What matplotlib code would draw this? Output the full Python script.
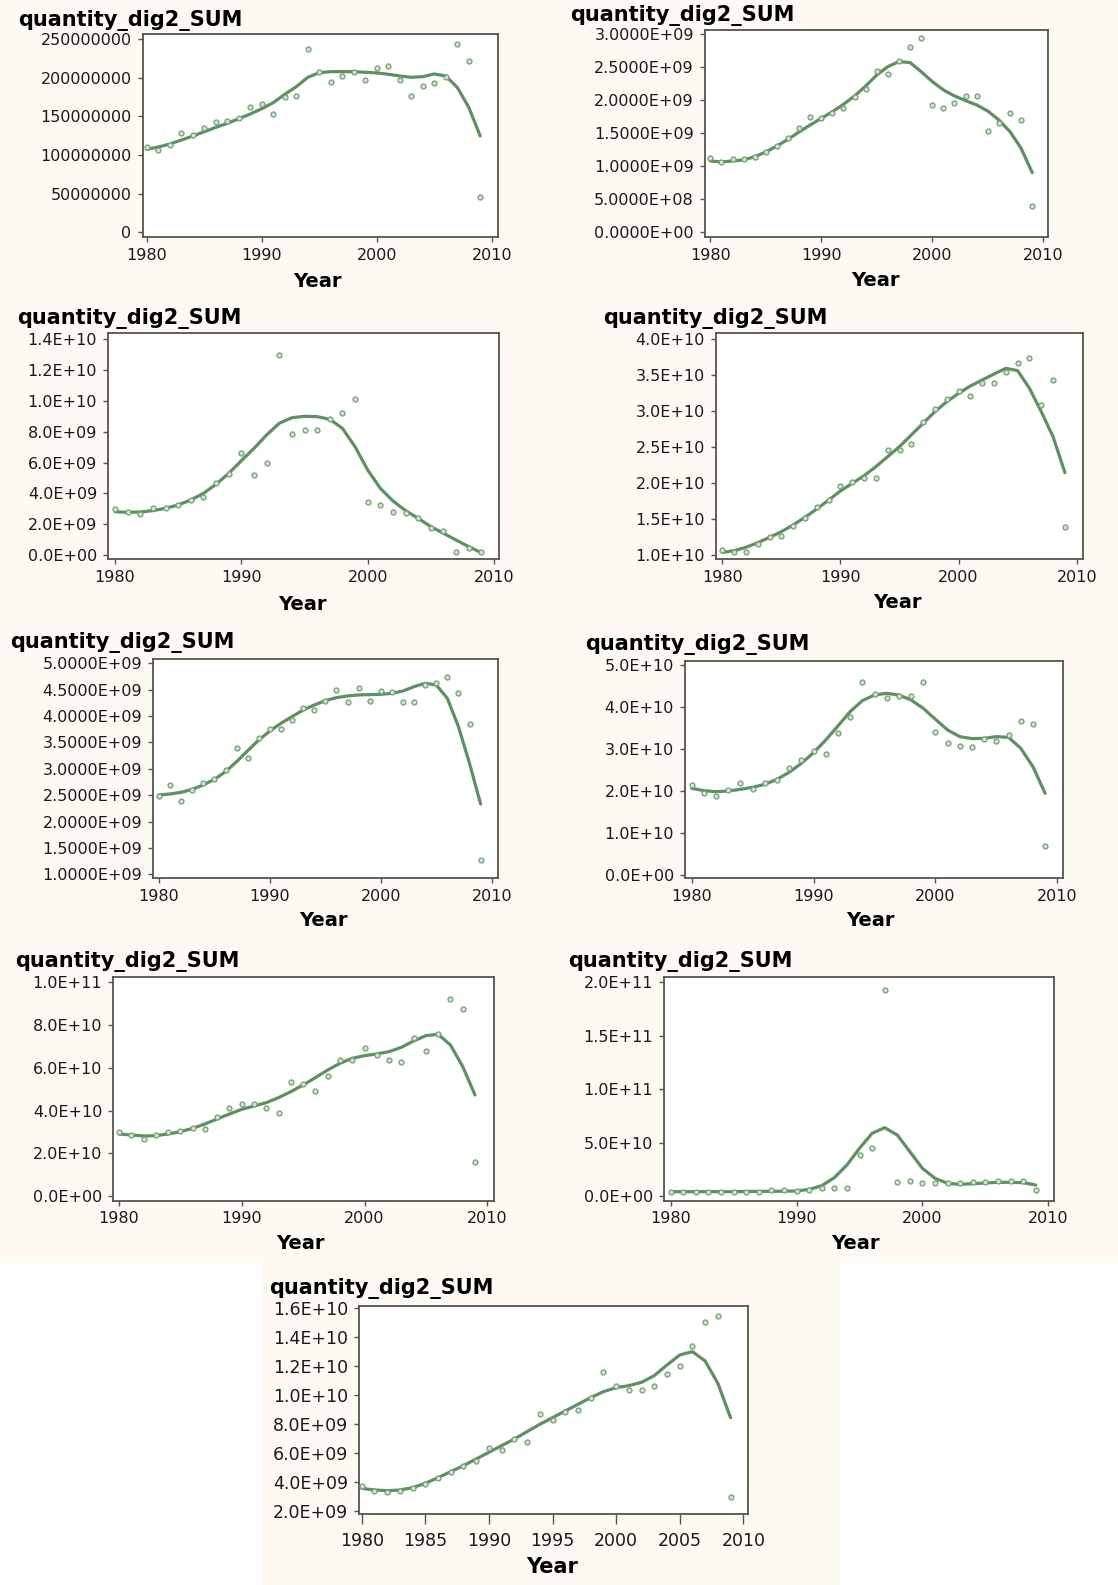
import matplotlib
matplotlib.use("Agg")
import matplotlib.pyplot as plt
from matplotlib.patches import Rectangle
from matplotlib.ticker import FuncFormatter, MultipleLocator

W, H = 1118, 1585

years = list(range(1980, 2010))

# values, one pair (points, fitted curve) per panel
# panel 1 (millions)
p1_pts = [110.5, 107, 113, 128.7, 126.5, 135.6, 142.5, 144.6, 147.7, 162.8,
          166.7, 152.9, 175.3, 177, 237.5, 207.7, 195.2, 203, 207.7, 197.3,
          213.3, 215.5, 197.3, 177, 189.6, 193.4, 201.6, 244, 221.5, 46.2]
p1_fit = [107.5, 110.5, 114.4, 119.6, 124.8, 130.4, 136, 141.2, 147.2, 153.3,
          160.2, 168, 178.8, 188.7, 200.8, 206.8, 208.1, 208.1, 208, 207.3,
          206.4, 204.7, 202.5, 200.8, 201.6, 205.1, 202.5, 187.8, 162, 124.8]
# panel 2 (1e9)
p2_pts = [1.131, 1.061, 1.106, 1.106, 1.136, 1.222, 1.308, 1.424, 1.586, 1.742,
          1.727, 1.803, 1.889, 2.056, 2.167, 2.449, 2.399, 2.596, 2.803, 2.949,
          1.929, 1.889, 1.955, 2.071, 2.071, 1.535, 1.652, 1.813, 1.697, 0.399]
p2_fit = [1.081, 1.066, 1.081, 1.096, 1.146, 1.217, 1.308, 1.409, 1.520, 1.626,
          1.727, 1.828, 1.939, 2.066, 2.217, 2.384, 2.510, 2.586, 2.571, 2.434,
          2.283, 2.157, 2.066, 1.995, 1.929, 1.838, 1.702, 1.525, 1.273, 0.904]
# panel 3 (1e9)
p3_pts = [2.96, 2.77, 2.66, 3.03, 3.03, 3.25, 3.57, 3.79, 4.70, 5.26,
          6.60, 5.19, 5.99, 12.98, 7.83, 8.11, 8.11, 8.83, 9.24, 10.15,
          3.46, 3.25, 2.77, 2.70, 2.42, 1.73, 1.56, 0.22, 0.43, 0.17]
p3_fit = [2.81, 2.77, 2.79, 2.88, 3.03, 3.25, 3.57, 4.00, 4.59, 5.30,
          6.12, 6.92, 7.79, 8.55, 8.91, 9.00, 8.98, 8.81, 8.22, 7.03,
          5.52, 4.33, 3.51, 2.88, 2.38, 1.84, 1.41, 0.97, 0.54, 0.15]
# panel 4 (1e10)
p4_pts = [1.069, 1.046, 1.046, 1.153, 1.245, 1.269, 1.403, 1.509, 1.662, 1.764,
          1.963, 2.019, 2.065, 2.065, 2.458, 2.458, 2.542, 2.843, 3.028, 3.167,
          3.282, 3.213, 3.394, 3.384, 3.546, 3.671, 3.731, 3.083, 3.431, 1.384]
p4_fit = [1.037, 1.060, 1.106, 1.171, 1.245, 1.324, 1.417, 1.523, 1.639, 1.764,
          1.889, 1.995, 2.102, 2.227, 2.366, 2.505, 2.667, 2.829, 2.991, 3.130,
          3.245, 3.347, 3.431, 3.514, 3.593, 3.560, 3.315, 2.991, 2.643, 2.144]
# panel 5 (1e9)
p5_pts = [2.491, 2.694, 2.397, 2.599, 2.725, 2.807, 2.978, 3.401, 3.199, 3.578,
          3.755, 3.755, 3.926, 4.147, 4.115, 4.286, 4.494, 4.261, 4.526, 4.292,
          4.475, 4.450, 4.261, 4.261, 4.589, 4.621, 4.735, 4.444, 3.844, 1.272]
p5_fit = [2.504, 2.523, 2.554, 2.611, 2.694, 2.801, 2.946, 3.136, 3.344, 3.547,
          3.717, 3.863, 3.989, 4.115, 4.210, 4.292, 4.349, 4.381, 4.400, 4.406,
          4.412, 4.431, 4.475, 4.558, 4.621, 4.589, 4.336, 3.799, 3.104, 2.333]
# panel 6 (1e10)
p6_pts = [2.143, 1.960, 1.881, 2.024, 2.183, 2.040, 2.183, 2.262, 2.540, 2.738,
          2.952, 2.881, 3.373, 3.770, 4.588, 4.310, 4.222, 4.270, 4.262, 4.588,
          3.397, 3.151, 3.072, 3.040, 3.230, 3.191, 3.334, 3.667, 3.588, 0.691]
p6_fit = [2.064, 2.008, 1.984, 2.000, 2.040, 2.087, 2.159, 2.278, 2.445, 2.659,
          2.913, 3.214, 3.548, 3.889, 4.151, 4.286, 4.326, 4.286, 4.167, 3.969,
          3.707, 3.453, 3.294, 3.246, 3.254, 3.294, 3.278, 3.016, 2.580, 1.945]
# panel 7 (1e10)
p7_pts = [2.980, 2.855, 2.652, 2.855, 3.011, 3.058, 3.167, 3.136, 3.713, 4.103,
          4.306, 4.306, 4.103, 3.869, 5.351, 5.242, 4.914, 5.632, 6.365, 6.365,
          6.942, 6.599, 6.365, 6.287, 7.379, 6.786, 7.566, 9.205, 8.752, 1.607]
p7_fit = [2.902, 2.855, 2.808, 2.824, 2.902, 3.011, 3.167, 3.370, 3.604, 3.838,
          4.056, 4.212, 4.368, 4.602, 4.883, 5.195, 5.538, 5.897, 6.209, 6.443,
          6.568, 6.646, 6.755, 6.958, 7.254, 7.504, 7.566, 7.067, 6.053, 4.727]
# panel 8 (1e10)
p8_pts = [0.41, 0.41, 0.41, 0.41, 0.41, 0.41, 0.41, 0.41, 0.53, 0.53,
          0.50, 0.56, 0.718, 0.718, 0.718, 3.838, 4.524, 19.25, 1.279, 1.435,
          1.186, 1.186, 1.186, 1.186, 1.31, 1.31, 1.404, 1.404, 1.404, 0.56]
p8_fit = [0.406, 0.406, 0.406, 0.406, 0.406, 0.406, 0.42, 0.43, 0.44, 0.45,
          0.468, 0.624, 0.967, 1.716, 2.902, 4.462, 5.866, 6.396, 5.710, 4.150,
          2.590, 1.654, 1.186, 1.092, 1.154, 1.217, 1.279, 1.279, 1.248, 1.030]
# panel 9 (1e9)
p9_pts = [3.727, 3.405, 3.289, 3.405, 3.566, 3.842, 4.303, 4.671, 5.132, 5.477,
          6.375, 6.214, 6.974, 6.743, 8.677, 8.286, 8.862, 8.977, 9.829, 11.579,
          10.658, 10.358, 10.358, 10.635, 11.464, 12.016, 13.421, 15.033, 15.470, 2.990]
p9_fit = [3.566, 3.451, 3.405, 3.451, 3.612, 3.911, 4.303, 4.717, 5.132, 5.592,
          6.053, 6.513, 6.974, 7.480, 7.987, 8.447, 8.908, 9.368, 9.829, 10.243,
          10.520, 10.658, 10.888, 11.349, 12.085, 12.776, 13.006, 12.362, 10.819, 8.447]

units = [1e6, 1e9, 1e9, 1e10, 1e9, 1e10, 1e10, 1e10, 1e9]
series = [(p1_pts, p1_fit), (p2_pts, p2_fit), (p3_pts, p3_fit), (p4_pts, p4_fit),
          (p5_pts, p5_fit), (p6_pts, p6_fit), (p7_pts, p7_fit), (p8_pts, p8_fit),
          (p9_pts, p9_fit)]

# y tick ranges (start, stop, step) and label style per panel
y_ticks = [(0, 250e6, 50e6), (0, 3e9, 5e8), (0, 1.4e10, 2e9), (1e10, 4e10, 5e9),
           (1e9, 5e9, 5e8), (0, 5e10, 1e10), (0, 1e11, 2e10), (0, 2e11, 5e10),
           (2e9, 1.6e10, 2e9)]
y_fmt = ["int", ".4E", ".1E", ".1E", ".4E", ".1E", ".1E", ".1E", ".1E"]
x_step = [10, 10, 10, 10, 10, 10, 10, 10, 5]

# layout in pixels: frame (l, t, r, b), x ref px for 1980/2010, y ref px for first/last tick,
# title (x, baseline), "Year" (center x, baseline)
layout = [
    dict(frame=(142.7, 34.3, 498.3, 237.3), xpx=(147.0, 491.7), ypx=(232.3, 39.3), title=(18, 26), year=(317, 287)),
    dict(frame=(705.0, 30.0, 1048.3, 237.3), xpx=(710.3, 1043.3), ypx=(232.3, 34.3), title=(570, 21), year=(875, 286)),
    dict(frame=(108.3, 333.3, 499.0, 559.3), xpx=(115.0, 494.0), ypx=(555.0, 339.3), title=(17, 324), year=(302, 610)),
    dict(frame=(716.0, 333.3, 1083.3, 559.3), xpx=(722.3, 1076.7), ypx=(555.0, 339.0), title=(603, 324), year=(897, 608)),
    dict(frame=(153.3, 659.0, 497.7, 878.3), xpx=(159.0, 491.7), ypx=(874.3, 663.3), title=(10, 648), year=(323, 926)),
    dict(frame=(685.0, 660.7, 1062.7, 878.3), xpx=(691.7, 1057.3), ypx=(875.0, 665.0), title=(585, 650), year=(870, 926)),
    dict(frame=(113.3, 977.3, 494.3, 1200.7), xpx=(119.0, 487.3), ypx=(1196.0, 982.3), title=(15, 967), year=(300, 1249)),
    dict(frame=(664.3, 977.3, 1054.0, 1200.7), xpx=(670.7, 1048.3), ypx=(1196.0, 982.3), title=(568, 967), year=(855, 1249)),
    dict(frame=(359.3, 1306.0, 747.7, 1514.0), xpx=(361.7, 743.3), ypx=(1511.0, 1308.3), title=(269, 1294), year=(552, 1573)),
]

cream = "#fcfaf2"
green = "#5f8f63"
frame_col = "#55554c"

fig = plt.figure(figsize=(W / 100, H / 100), dpi=100)
fig.patch.set_facecolor("white")
fig.patches.append(Rectangle((0, 1 - 1263 / H), 1, 1263 / H, transform=fig.transFigure,
                             facecolor=cream, edgecolor="none", zorder=-10))
fig.patches.append(Rectangle((262 / W, 0), (840 - 262) / W, (H - 1263) / H, transform=fig.transFigure,
                             facecolor=cream, edgecolor="none", zorder=-10))


def make_fmt(kind):
    if kind == "int":
        return FuncFormatter(lambda v, p: f"{int(round(v))}")
    return FuncFormatter(lambda v, p: format(v, kind))


for i, (lay, (pts, fit)) in enumerate(zip(layout, series)):
    l, t, r, b = lay["frame"]
    ax = fig.add_axes([l / W, 1 - b / H, (r - l) / W, (b - t) / H])
    ax.set_facecolor("white")
    big = i == 8

    # axis limits from the tick pixel references
    x0p, x1p = lay["xpx"]
    sx = (2010 - 1980) / (x1p - x0p)
    ax.set_xlim(1980 + (l - x0p) * sx, 1980 + (r - x0p) * sx)
    y0v, y1v, ystep = y_ticks[i]
    y0p, y1p = lay["ypx"]
    sy = (y1v - y0v) / (y1p - y0p)
    ax.set_ylim(y0v + (b - y0p) * sy, y0v + (t - y0p) * sy)

    u = units[i]
    ax.plot(years, [v * u for v in fit], color=green, lw=2.3, solid_capstyle="round",
            solid_joinstyle="round", zorder=2)
    ax.plot(years, [v * u for v in pts], ls="none", marker="o", ms=3.6, mfc="#d3e3d3",
            mec="#74a076", mew=0.9, zorder=3)

    ax.xaxis.set_major_locator(MultipleLocator(x_step[i]))
    ax.yaxis.set_major_locator(MultipleLocator(ystep))
    ax.yaxis.set_major_formatter(make_fmt(y_fmt[i]))
    fs = 12.5 if big else 11.5
    ax.tick_params(axis="both", direction="out", color=frame_col, labelsize=fs,
                   labelcolor="#1a1a1a", width=1.0)
    ax.tick_params(axis="x", length=7 if big else 3.5, pad=6 if big else 4)
    ax.tick_params(axis="y", length=3.5, pad=4.5)
    for s in ax.spines.values():
        s.set_color(frame_col)
        s.set_linewidth(1.3)

    tx, ty = lay["title"]
    fig.text(tx / W, 1 - ty / H, "quantity_dig2_SUM", fontsize=15, fontweight="bold",
             ha="left", va="baseline")
    yx, yy = lay["year"]
    fig.text(yx / W, 1 - yy / H, "Year", fontsize=15 if big else 14, fontweight="bold",
             ha="center", va="baseline")

fig.savefig("out.png", dpi=100, facecolor=fig.get_facecolor())
